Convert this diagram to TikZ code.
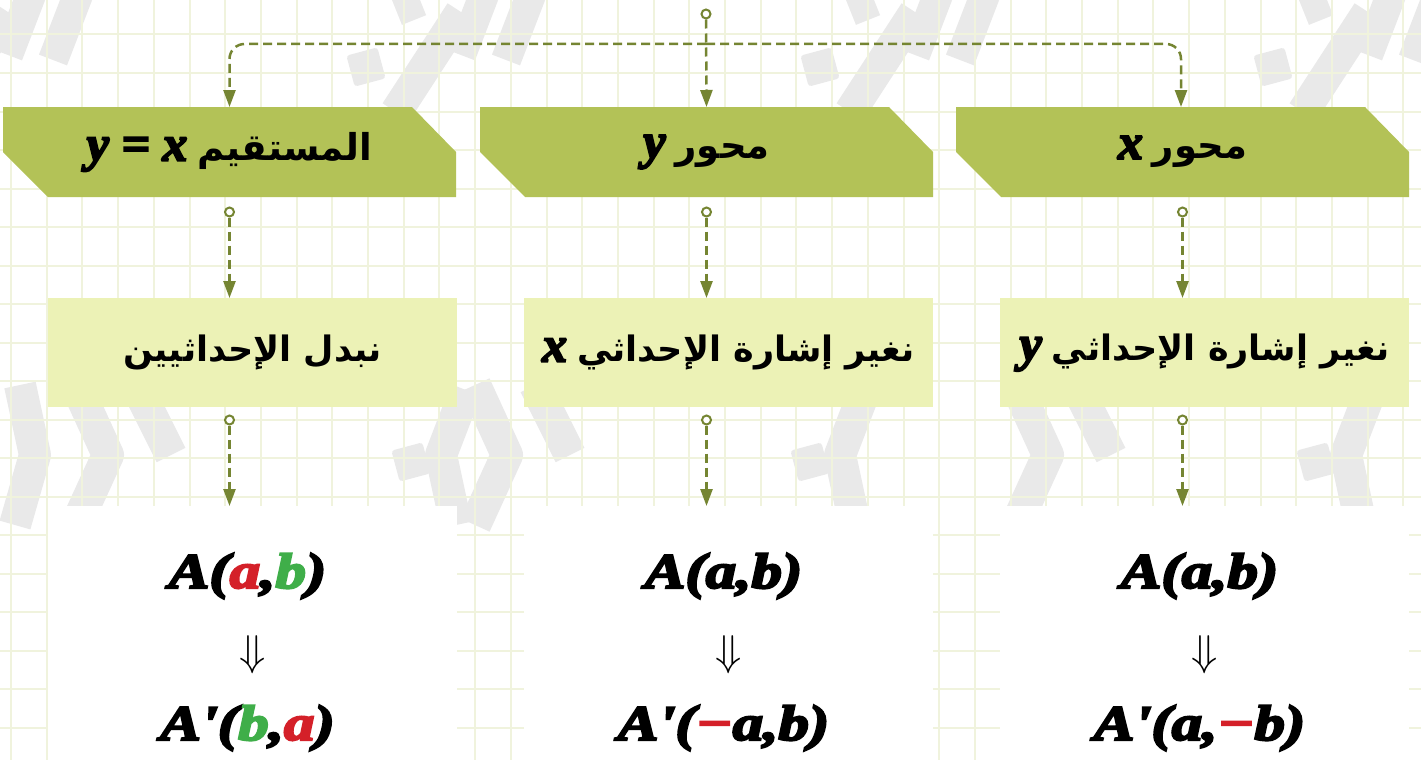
\documentclass[tikz,border=0pt]{standalone}
\usepackage{fontspec}
\setmainfont{Liberation Serif}
\newfontfamily\bimath{Liberation Serif Bold Italic}[Ligatures=ResetAll]
\newfontfamily\arabicfont[Script=Arabic]{DejaVu Sans}
\TeXXeTstate=1
\usetikzlibrary{arrows.meta}
\pgfdeclarelayer{gridlayer}
\pgfdeclarelayer{bglayer}
\pgfsetlayers{gridlayer,bglayer,main}
\definecolor{hdrgreen}{HTML}{B3C257}
\definecolor{lightgreen}{HTML}{ECF2B6}
\definecolor{olive}{HTML}{758532}
\definecolor{myred}{HTML}{D42029}
\definecolor{mygreen}{HTML}{3FAE49}
\definecolor{gridcol}{HTML}{F0F3DD}
\definecolor{wmgrey}{HTML}{E9E9E9}
\newcommand\heavy[1]{\special{pdf:literal direct 2 Tr 2 w}#1\special{pdf:literal direct 0 Tr 1 w}}
\newcommand\mth[1]{{\bimath\fontsize{50}{60}\selectfont\heavy{#1}}}
\newcommand\wide[1]{\scalebox{1.22}[1]{#1}}
\newcommand\artx[1]{{\arabicfont\bfseries\fontsize{37}{44}\selectfont\beginR #1\endR}}
\newcommand\artm[1]{{\arabicfont\bfseries\fontsize{35}{42}\selectfont\beginR #1\endR}}
\tikzset{
  frame/.style={inner sep=0pt, outer sep=0pt},
  lightbox/.style={fill=lightgreen, inner sep=0pt, outer sep=0pt, minimum width=409pt, minimum height=109pt},
  whitebox/.style={fill=white, inner sep=0pt, outer sep=0pt, minimum width=409pt, minimum height=260pt, anchor=north},
  dotnode/.style={circle, draw=olive, line width=2pt, fill=white, minimum size=9pt, inner sep=0pt},
  conn/.style={draw=olive, line width=2.5pt, dash pattern=on 9pt off 5pt, -{Triangle[length=17pt,width=12pt]}},
  gridline/.style={draw=gridcol, line width=2pt},
  wm/.style={draw=wmgrey, line width=32pt, line join=round},
  wmdot/.style={fill=wmgrey, rounded corners=3pt},
  txt/.style={inner sep=0pt, text=black}
}
\begin{document}
\begin{tikzpicture}[x=1pt,y=-1pt]
\useasboundingbox (0,0) rectangle (1421,760);
\clip (0,0) rectangle (1421,760);
\begin{pgfonlayer}{gridlayer}
\fill[white] (0,0) rectangle (1421,760);
% watermark, top band
\foreach \dx in {-87,366,820,1273}{
  \fill[wmdot, rotate around={15:(\dx,67)}] (\dx-16,51) rectangle (\dx+16,83);
  \draw[wm] (\dx+30,112) -- (\dx+95,12);
  \draw[wm, line width=26pt] (\dx+38,-5) -- (\dx+48,20);
  \draw[wm, line width=30pt] (\dx+95,55) -- (\dx+118,-5);
  \draw[wm, line width=30pt] (\dx+140,60) -- (\dx+165,-5);
}
% watermark, middle band
\foreach \dx/\cx in {411/-335,810/-335,1316/-300}{
  \fill[wmdot, rotate around={15:(\dx,462)}] (\dx-16,446) rectangle (\dx+16,478);
  \draw[wm] (\dx+45,525) -- (\dx+30,455) -- (\dx+55,390);
  \draw[wm] (\dx+\cx,385) -- (\dx+\cx+32,455) -- (\dx+\cx,525);
  \draw[wm] (\dx+\cx+60,385) -- (\dx+\cx+95,455);
}
\draw[wm] (20,385) -- (35,455) -- (15,525);
\foreach \i in {0,...,40} \draw[gridline] (11+35.7*\i,0) -- ++(0,760);
\foreach \j in {0,...,19} \draw[gridline] (0,34.5+38.5*\j) -- ++(1421,0);
\end{pgfonlayer}

% header nodes
\node[frame, minimum width=453pt, minimum height=90pt] (h1) at (229.5,152) {\mth{y = x}\hspace{10pt}\artx{المستقيم}};
\node[frame, minimum width=453pt, minimum height=90pt] (h2) at (706.5,152) {\mth{y}\hspace{10pt}\artx{محور}};
\node[frame, minimum width=453pt, minimum height=90pt] (h3) at (1182.5,152) {\mth{x}\hspace{10pt}\artx{محور}};
\begin{pgfonlayer}{bglayer}
\foreach \n in {h1,h2,h3}
  \fill[hdrgreen] (\n.north west) -- ([xshift=-44pt]\n.north east) -- ([yshift=-45pt]\n.north east)
    -- (\n.south east) -- ([xshift=45pt]\n.south west) -- ([yshift=45pt]\n.south west) -- cycle;
\end{pgfonlayer}

% middle boxes
\node[lightbox] (m1) at (252.5,352.5) {\artm{نبدل الإحداثيين}};
\node[lightbox] (m2) at (728.5,352.5) {\mth{x}\hspace{10pt}\artm{نغير إشارة الإحداثي}};
\node[lightbox] (m3) at (1204.5,352.5) {\mth{y}\hspace{10pt}\artm{نغير إشارة الإحداثي}};

% white boxes
\node[whitebox] (w1) at (252.5,506) {};
\node[whitebox] (w2) at (728.5,506) {};
\node[whitebox] (w3) at (1204.5,506) {};

\node[txt] (a1) at ([xshift=-5pt,yshift=-70pt]w1.north) {\wide{\mth{A(\textcolor{myred}{a},\textcolor{mygreen}{b})}}};
\node[txt] (r1) at ([yshift=-149pt]w1.north) {\scalebox{4.3}{$\Downarrow$}};
\node[txt] (b1) at ([xshift=-5pt,yshift=-222pt]w1.north) {\wide{\mth{A\symbol{39}(\textcolor{mygreen}{b},\textcolor{myred}{a})}}};

\node[txt] (a2) at ([xshift=-5pt,yshift=-70pt]w2.north) {\wide{\mth{A(a,b)}}};
\node[txt] (r2) at ([yshift=-149pt]w2.north) {\scalebox{4.3}{$\Downarrow$}};
\node[txt] (b2) at ([xshift=-5pt,yshift=-222pt]w2.north) {\wide{\mth{A\symbol{39}(\textcolor{myred}{−}a,b)}}};

\node[txt] (a3) at ([xshift=-5pt,yshift=-70pt]w3.north) {\wide{\mth{A(a,b)}}};
\node[txt] (r3) at ([yshift=-149pt]w3.north) {\scalebox{4.3}{$\Downarrow$}};
\node[txt] (b3) at ([xshift=-5pt,yshift=-222pt]w3.north) {\wide{\mth{A\symbol{39}(a,\textcolor{myred}{−}b)}}};

% top connectors
\node[dotnode] (top) at (706,14) {};
\coordinate (hub) at (706,44);
\draw[conn] (top) -- (h2.north);
\draw[conn, rounded corners=15pt] (hub) -| (h1.north);
\draw[conn, rounded corners=15pt] (hub) -| ([xshift=-1.5pt]h3.north);

% column connectors
\foreach \h/\m/\w in {h1/m1/w1,h2/m2/w2,h3/m3/w3}{
  \node[dotnode] (d\h) at ([yshift=-15pt]\h.south) {};
  \draw[conn] (d\h) -- (d\h |- \m.north);
  \node[dotnode] (e\h) at (d\h |- 0,420) {};
  \draw[conn] (e\h) -- (e\h |- \w.north);
}
\end{tikzpicture}
\end{document}
